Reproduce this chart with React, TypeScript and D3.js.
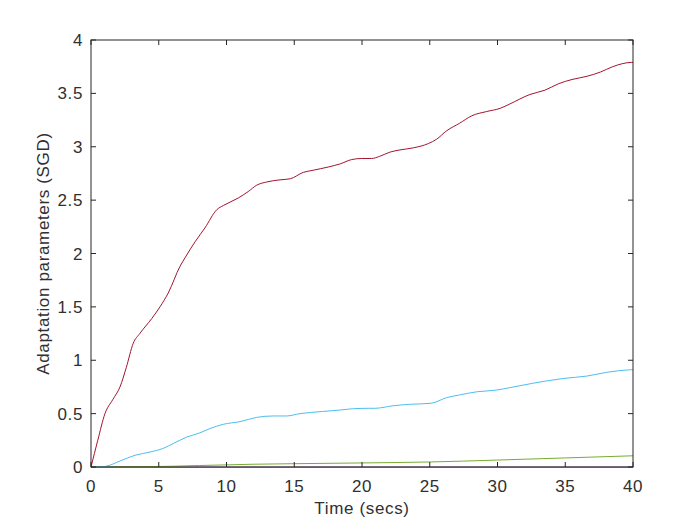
import React from "react";
import * as d3 from "d3";

const redT = [0, 0.5, 1.03, 1.6, 2.14, 2.6, 3.12, 3.6, 4.48, 5.09, 5.7, 6.57, 6.94, 7.68, 8.41, 9.28, 9.77, 10.87, 11.6, 12.23, 12.97, 13.95, 14.7, 15.67, 16.4, 17.5, 18.4, 19.24, 19.98, 20.7, 21.3, 22.07, 22.8, 23.8, 24.9, 25.5, 26.25, 27.2, 28.1, 29.2, 30.2, 30.9, 32.4, 33.5, 34.5, 35.5, 36.6, 37.6, 38.5, 39.9, 40];
const redV = [0, 0.25, 0.5, 0.63, 0.75, 0.93, 1.16, 1.25, 1.39, 1.5, 1.63, 1.88, 1.96, 2.11, 2.24, 2.41, 2.45, 2.52, 2.58, 2.64, 2.67, 2.69, 2.7, 2.76, 2.78, 2.81, 2.84, 2.88, 2.89, 2.89, 2.91, 2.95, 2.97, 2.99, 3.03, 3.07, 3.15, 3.22, 3.29, 3.33, 3.36, 3.4, 3.49, 3.53, 3.59, 3.63, 3.66, 3.7, 3.75, 3.79, 3.79];

const cyanT = [0, 0.7, 1.2, 2.14, 3.25, 4.35, 5.34, 6.07, 7.06, 8.04, 8.78, 9.76, 11.0, 12.23, 13.45, 14.44, 15.42, 17.1, 18.4, 19.36, 20.5, 20.96, 22.3, 23.5, 25.1, 26.25, 27.2, 28.5, 29.9, 30.9, 32.6, 33.6, 34.9, 36.6, 38.06, 39.8, 40];
const cyanV = [0, 0, 0.01, 0.056, 0.11, 0.14, 0.175, 0.22, 0.28, 0.32, 0.36, 0.4, 0.425, 0.465, 0.478, 0.478, 0.5, 0.52, 0.534, 0.546, 0.55, 0.55, 0.574, 0.587, 0.597, 0.65, 0.675, 0.705, 0.72, 0.743, 0.784, 0.806, 0.83, 0.852, 0.887, 0.911, 0.912];

const greenT = [0, 2, 4, 6, 8, 10, 12, 15, 20, 25, 30, 35, 40];
const greenV = [0, 0.001, 0.003, 0.007, 0.014, 0.02, 0.026, 0.031, 0.038, 0.047, 0.065, 0.085, 0.105];

const purpleT = [0, 5, 10, 20, 30, 40];
const purpleV = [0, -0.001, -0.001, -0.001, -0.001, -0.001];

const xTicks = [0, 5, 10, 15, 20, 25, 30, 35, 40];
const yTicks = [0, 0.5, 1, 1.5, 2, 2.5, 3, 3.5, 4];

const series = [
  { t: purpleT, v: purpleV, color: "#7E2F8E" },
  { t: greenT, v: greenV, color: "#77AC30" },
  { t: cyanT, v: cyanV, color: "#4DBEEE" },
  { t: redT, v: redV, color: "#A2142F" },
];

export default function App() {
  const L = 91, R = 633, T = 40, B = 467;
  const x = d3.scaleLinear().domain([0, 40]).range([L, R]);
  const y = d3.scaleLinear().domain([0, 4]).range([B, T]);
  const line = d3
    .line<[number, number]>()
    .x((d) => x(d[0]))
    .y((d) => y(d[1]))
    .curve(d3.curveMonotoneX);
  const axisColor = "#262626";
  const textColor = "#303030";
  const font = "'Liberation Sans', Arial, Helvetica, sans-serif";
  const fs = 17;
  const ls = 0.65;
  const tl = 5;
  return (
    <svg
      width={700}
      height={525}
      style={{ position: "absolute", left: 0, top: 0, background: "#fff" }}
      fontFamily={font}
    >
      <rect x={0} y={0} width={700} height={525} fill="#fff" />
      <defs>
        <clipPath id="clip">
          <rect x={L} y={T - 1} width={R - L} height={B - T + 2} />
        </clipPath>
      </defs>
      <g clipPath="url(#clip)">
        {series.map((s, i) => (
          <path
            key={i}
            d={line(s.t.map((t, j) => [t, s.v[j]] as [number, number])) || ""}
            fill="none"
            stroke={s.color}
            strokeWidth={1}
          />
        ))}
      </g>
      <rect x={L} y={T} width={R - L} height={B - T} fill="none" stroke={axisColor} strokeWidth={1} />
      {xTicks.map((t) => (
        <g key={"x" + t}>
          <line x1={x(t)} x2={x(t)} y1={B} y2={B - tl} stroke={axisColor} />
          <line x1={x(t)} x2={x(t)} y1={T} y2={T + tl} stroke={axisColor} />
          <text x={x(t)} y={491.5} textAnchor="middle" fontSize={fs} letterSpacing={ls} fill={textColor}>
            {t}
          </text>
        </g>
      ))}
      {yTicks.map((t) => (
        <g key={"y" + t}>
          <line x1={L} x2={L + tl} y1={y(t)} y2={y(t)} stroke={axisColor} />
          <line x1={R} x2={R - tl} y1={y(t)} y2={y(t)} stroke={axisColor} />
          <text x={83} y={y(t) + 6} textAnchor="end" fontSize={fs} letterSpacing={ls} fill={textColor}>
            {t}
          </text>
        </g>
      ))}
      <text x={(L + R) / 2} y={514} textAnchor="middle" fontSize={fs} letterSpacing={ls} fill={textColor}>
        Time (secs)
      </text>
      <text
        transform={`translate(49, ${(T + B) / 2}) rotate(-90)`}
        textAnchor="middle"
        fontSize={fs}
        letterSpacing={ls}
        fill={textColor}
      >
        Adaptation parameters (SGD)
      </text>
    </svg>
  );
}
